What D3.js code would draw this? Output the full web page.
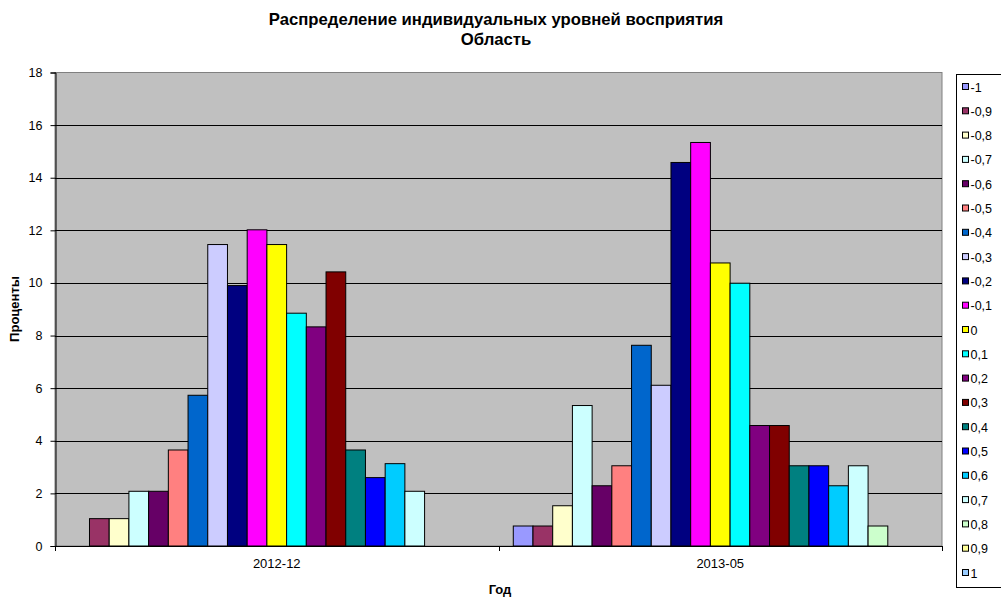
<!DOCTYPE html>
<html>
<head>
<meta charset="utf-8">
<title>Распределение</title>
<script src="https://cdn.jsdelivr.net/npm/d3@7"></script>
<style>
  body { margin: 0; background: #fff; }
  text { font-family: "Liberation Sans", Arial, sans-serif; }
</style>
</head>
<body>
<script>
// категории (годы)
var categories = ["2012-12", "2013-05"];
// серии - уровни восприятия
var levels = ["-1","-0,9","-0,8","-0,7","-0,6","-0,5","-0,4","-0,3","-0,2","-0,1","0",
              "0,1","0,2","0,3","0,4","0,5","0,6","0,7","0,8","0,9","1"];
var colors = ["#9999FF","#993366","#FFFFCC","#CCFFFF","#660066","#FF8080","#0066CC","#CCCCFF",
              "#000080","#FF00FF","#FFFF00","#00FFFF","#800080","#800000","#008080","#0000FF",
              "#00CCFF","#CCFFFF","#CCFFCC","#FFFF99","#99CCFF"];
var values2012 = [0, 1.04, 1.04, 2.08, 2.08, 3.65, 5.73, 11.46, 9.90, 12.02, 11.46,
                  8.85, 8.33, 10.42, 3.65, 2.60, 3.13, 2.08, 0, 0, 0];
var values2013 = [0.76, 0.76, 1.53, 5.34, 2.29, 3.05, 7.63, 6.11, 14.58, 15.34, 10.76,
                  9.99, 4.58, 4.58, 3.05, 3.05, 2.29, 3.05, 0.76, 0, 0];
var yTicks = [0, 2, 4, 6, 8, 10, 12, 14, 16, 18];

var w = 1001, h = 597;
var pL = 55, pR = 942, pT = 72.5, pB = 546;

var svg = d3.select("body").append("svg")
    .attr("width", w).attr("height", h);

var x0 = d3.scaleBand().domain(categories).range([pL, pR]).paddingInner(0).paddingOuter(0);
// зазор 150% как в Excel
var bw = x0.bandwidth() / (levels.length + 1.5);
var x1 = d3.scaleBand().domain(levels)
    .range([bw * 0.75, bw * 0.75 + bw * levels.length]).padding(0);
var y = d3.scaleLinear().domain([0, 18]).range([pB, pT]);

// фон области построения
svg.append("rect")
    .attr("x", pL).attr("y", pT)
    .attr("width", pR - pL).attr("height", pB - pT)
    .attr("fill", "#C0C0C0")
    .attr("stroke", "#808080").attr("stroke-width", 1);

// линии сетки
svg.append("g")
    .selectAll("line")
    .data(yTicks.filter(function(d) { return d > 0 && d < 18; }))
    .join("line")
    .attr("x1", pL).attr("x2", pR)
    .attr("y1", function(d) { return Math.round(y(d)) + 0.5; })
    .attr("y2", function(d) { return Math.round(y(d)) + 0.5; })
    .attr("stroke", "#000").attr("stroke-width", 1);

// столбцы
var data = [values2012, values2013];
categories.forEach(function(cat, ci) {
    var g = svg.append("g").attr("transform", "translate(" + x0(cat) + ",0)");
    g.selectAll("rect")
        .data(levels.map(function(l, i) { return {level: l, v: data[ci][i], c: colors[i]}; })
              .filter(function(d) { return d.v > 0; }))
        .join("rect")
        .attr("x", function(d) { return x1(d.level); })
        .attr("y", function(d) { return y(d.v); })
        .attr("width", x1.bandwidth())
        .attr("height", function(d) { return pB - y(d.v); })
        .attr("fill", function(d) { return d.c; })
        .attr("stroke", "#000").attr("stroke-width", 1);
});

// ось Y
var yAxis = d3.axisLeft(y).tickValues(yTicks).tickSize(5).tickPadding(8);
var gy = svg.append("g")
    .attr("transform", "translate(" + (pL + 0.5) + ",0)")
    .call(yAxis);
gy.select(".domain").attr("stroke", "#000");
gy.selectAll("text").attr("font-size", "12.5px").attr("fill", "#000")
    .attr("font-family", "Liberation Sans, Arial, sans-serif");

// ось X
var xAxis = d3.axisBottom(x0).tickSize(0).tickPadding(12);
var gx = svg.append("g")
    .attr("transform", "translate(0," + (pB + 0.5) + ")")
    .call(xAxis);
gx.select(".domain").attr("stroke", "#000").attr("d", "M" + pL + ",0H" + pR);
gx.selectAll("text").attr("font-size", "13px").attr("fill", "#000")
    .attr("font-family", "Liberation Sans, Arial, sans-serif");
// засечки на границах категорий
svg.append("g").selectAll("line")
    .data([pL, x0(categories[1]), pR])
    .join("line")
    .attr("x1", function(d) { return Math.round(d) + 0.5; })
    .attr("x2", function(d) { return Math.round(d) + 0.5; })
    .attr("y1", pB).attr("y2", pB + 5)
    .attr("stroke", "#000");

// заголовок
svg.append("text").text("Распределение индивидуальных уровней восприятия")
    .attr("x", 496).attr("y", 25).attr("text-anchor", "middle")
    .attr("font-size", "16.7px").attr("font-weight", "bold");
svg.append("text").text("Область")
    .attr("x", 496).attr("y", 45).attr("text-anchor", "middle")
    .attr("font-size", "16.7px").attr("font-weight", "bold");

// подписи осей
svg.append("text").text("Год")
    .attr("x", 500).attr("y", 594).attr("text-anchor", "middle")
    .attr("font-size", "13px").attr("font-weight", "bold");
svg.append("text").text("Проценты")
    .attr("transform", "translate(18.5,309) rotate(-90)")
    .attr("text-anchor", "middle")
    .attr("font-size", "13px").attr("font-weight", "bold");

// легенда
var lx = 956, ly = 74, lw = 50, lh = 513;
svg.append("rect")
    .attr("x", lx + 0.5).attr("y", ly + 0.5)
    .attr("width", lw).attr("height", lh)
    .attr("fill", "#fff").attr("stroke", "#000");
var step = 24.3;
var leg = svg.append("g").selectAll("g")
    .data(levels)
    .join("g")
    .attr("transform", function(d, i) { return "translate(" + (lx + 6) + "," + (ly + 13 + i * step) + ")"; });
leg.append("rect")
    .attr("x", 0.5).attr("y", -3.5).attr("width", 6).attr("height", 6)
    .attr("fill", function(d, i) { return colors[i]; })
    .attr("stroke", "#000");
leg.append("text").text(function(d) { return d; })
    .attr("x", 8.5).attr("y", 4.5)
    .attr("font-size", "12.5px").attr("fill", "#000");
</script>
</body>
</html>
